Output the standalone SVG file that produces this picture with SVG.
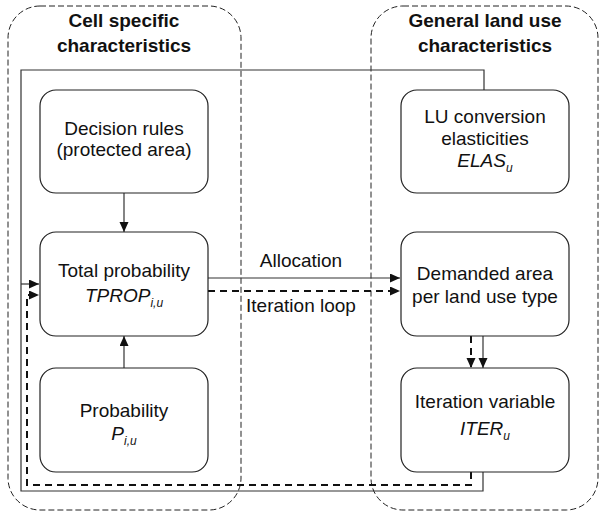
<svg xmlns="http://www.w3.org/2000/svg" width="599" height="514" viewBox="0 0 599 514">
<defs>
<style>
.grp{fill:none;stroke:#222;stroke-width:1;stroke-dasharray:6 3}
.box{fill:#fff;stroke:#222;stroke-width:1.2}
.t{font-family:"Liberation Sans",Arial,sans-serif;font-size:19px;fill:#111;text-anchor:middle}
.h{font-weight:bold}
.i{font-style:italic}
.sub{font-size:12px}
.sl{fill:none;stroke:#333;stroke-width:1.2}
.dl{fill:none;stroke:#111;stroke-width:2;stroke-dasharray:7 5}
</style>
<marker id="ah" markerUnits="userSpaceOnUse" markerWidth="11" markerHeight="10" refX="10" refY="4.5" orient="auto">
<path d="M0,0 L10,4.5 L0,9 z" fill="#111" stroke="none"/>
</marker>
</defs>
<rect width="599" height="514" fill="#fff"/>

<g id="group-cell">
<rect class="grp" x="8" y="6" width="233" height="504" rx="32"/>
<text class="t h" x="124" y="27">Cell specific</text>
<text class="t h" x="124" y="52">characteristics</text>
</g>
<g id="group-general">
<rect class="grp" x="371" y="6" width="227" height="504" rx="32"/>
<text class="t h" x="485" y="27">General land use</text>
<text class="t h" x="485" y="52">characteristics</text>
</g>

<g id="connectors">
<path class="sl" d="M484 90 V70 H21 V491 H483 V472"/>
<path class="sl" d="M21 284 H39" marker-end="url(#ah)"/>
<path class="dl" d="M471 472 V485 H27 V295 H39" marker-end="url(#ah)"/>
<path class="sl" d="M124 193 V232" marker-end="url(#ah)"/>
<path class="sl" d="M124 368 V336" marker-end="url(#ah)"/>
<path class="sl" d="M208 278 H400" marker-end="url(#ah)"/>
<path class="dl" d="M208 291 H400" marker-end="url(#ah)"/>
<path class="sl" d="M483 336 V368" marker-end="url(#ah)"/>
<path class="dl" d="M471 336 V368" marker-end="url(#ah)"/>
<text class="t" x="301" y="267">Allocation</text>
<text class="t" x="301" y="312">Iteration loop</text>
</g>

<g id="decision">
<rect class="box" x="40" y="90" width="168" height="103" rx="16"/>
<text class="t" x="124" y="135">Decision rules</text>
<text class="t" x="124" y="156">(protected area)</text>
</g>
<g id="tprop">
<rect class="box" x="40" y="232" width="168" height="104" rx="16"/>
<text class="t" x="124" y="277">Total probability</text>
<text class="t" x="124" y="302"><tspan class="i">TPROP</tspan><tspan class="i sub" dy="5">i,u</tspan></text>
</g>
<g id="probability">
<rect class="box" x="40" y="368" width="168" height="104" rx="16"/>
<text class="t" x="124" y="417">Probability</text>
<text class="t" x="124" y="440"><tspan class="i">P</tspan><tspan class="i sub" dy="5">i,u</tspan></text>
</g>
<g id="elas">
<rect class="box" x="401" y="90" width="168" height="103" rx="16"/>
<text class="t" x="485" y="123">LU conversion</text>
<text class="t" x="485" y="145">elasticities</text>
<text class="t" x="485" y="167"><tspan class="i">ELAS</tspan><tspan class="i sub" dy="5">u</tspan></text>
</g>
<g id="demanded">
<rect class="box" x="401" y="232" width="168" height="104" rx="16"/>
<text class="t" x="485" y="280">Demanded area</text>
<text class="t" x="485" y="303">per land use type</text>
</g>
<g id="iter">
<rect class="box" x="401" y="368" width="168" height="104" rx="16"/>
<text class="t" x="485" y="408">Iteration variable</text>
<text class="t" x="485" y="435"><tspan class="i">ITER</tspan><tspan class="i sub" dy="5">u</tspan></text>
</g>
</svg>
